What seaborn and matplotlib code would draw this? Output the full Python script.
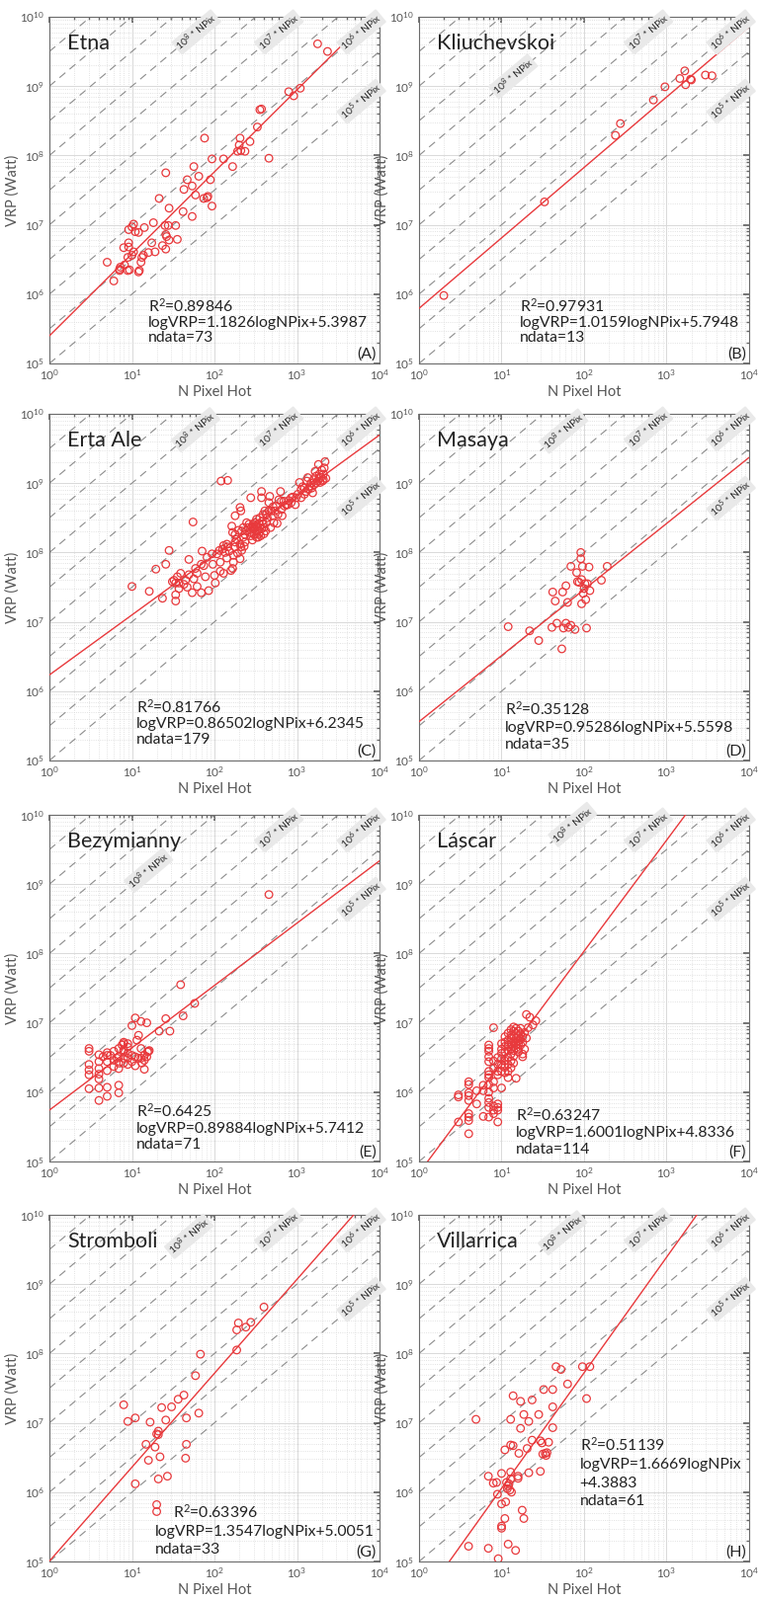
import numpy as np
import pandas as pd
import matplotlib
matplotlib.use("Agg")
import matplotlib.pyplot as plt
import seaborn as sns

# ---- data (log10 of N pixel hot, log10 of VRP in Watt) ----
etna_lognpix = [3.25, 3.37, 2.90, 2.96, 3.04, 2.55, 2.57, 2.52, 2.31, 2.30, 2.32, 2.43, 2.37, 2.28, 2.66,
                2.11, 2.22, 1.88, 1.97, 1.41, 1.75, 1.81, 1.67, 1.73, 1.63, 1.77, 1.95, 1.87, 1.91, 1.92,
                1.97, 1.33, 1.45, 1.62, 1.73, 1.26, 1.40, 1.44, 1.53, 1.02, 1.00, 1.04, 0.96, 1.08, 1.15,
                0.96, 1.41, 1.42, 1.55, 1.45, 1.24, 1.37, 1.41, 1.28, 1.20, 1.14, 1.02, 1.00, 0.95, 0.90,
                0.96, 1.12, 1.11, 1.09, 1.08, 0.97, 0.95, 0.91, 0.85, 0.70, 0.78, 0.86, 0.85]
etna_logvrp = [9.61, 9.50, 8.92, 8.86, 8.97, 8.66, 8.67, 8.41, 8.25, 8.15, 8.07, 8.20, 8.06, 8.06, 7.96,
               7.95, 7.84, 8.25, 7.95, 7.75, 7.84, 7.70, 7.65, 7.56, 7.51, 7.43, 7.65, 7.38, 7.39, 7.41,
               7.27, 7.38, 7.24, 7.19, 7.12, 7.03, 6.99, 6.99, 6.99, 7.01, 6.97, 6.90, 6.93, 6.89, 6.96,
               6.74, 6.86, 6.83, 6.79, 6.78, 6.74, 6.70, 6.65, 6.61, 6.60, 6.56, 6.61, 6.56, 6.53, 6.67,
               6.68, 6.53, 6.46, 6.34, 6.32, 6.35, 6.34, 6.42, 6.34, 6.46, 6.19, 6.39, 6.36]

kliu_lognpix = [0.30, 1.52, 2.38, 2.44, 2.84, 2.98, 3.16, 3.22, 3.23, 3.29, 3.30, 3.47, 3.55]
kliu_logvrp = [5.98, 7.33, 8.29, 8.46, 8.80, 8.99, 9.11, 9.22, 9.02, 9.10, 9.09, 9.16, 9.15]

erta_lognpix = [1.00, 1.21, 1.37, 1.53, 1.53, 1.29, 1.41, 1.45, 1.74, 2.08, 2.16,
                1.51, 1.55, 1.59, 1.53, 1.49, 1.57, 1.65, 1.67, 1.69, 1.69, 1.73, 1.79, 1.79, 1.84,
                1.84, 1.85, 1.89, 1.93, 1.98, 2.00, 2.01, 2.03, 2.07, 2.07, 2.10, 2.11, 2.13, 2.15,
                2.16, 2.18, 2.20, 2.22, 2.23, 2.23, 2.25, 2.25, 2.28, 2.31, 2.33, 2.36,
                2.21, 2.22, 2.25, 2.25, 2.31, 2.32, 2.29, 2.33, 2.35, 2.35, 2.37, 2.39, 2.41, 2.43,
                2.44, 2.45, 2.47, 2.48, 2.49, 2.50, 2.51, 2.52, 2.53, 2.54, 2.55, 2.55, 2.56, 2.57,
                2.57, 2.58, 2.59, 2.60, 2.61, 2.63, 2.64, 2.66, 2.67, 2.68, 2.69, 2.71, 2.72, 2.76,
                2.78, 2.80, 2.81, 2.84, 2.87, 2.90, 2.93, 2.95, 2.98, 3.01, 3.03, 3.05, 3.07, 3.09,
                3.11, 3.12, 3.13, 3.15, 3.17, 3.19, 3.20, 3.22, 3.23, 3.25, 3.26, 3.27, 3.29, 3.30,
                3.31, 3.32, 3.33, 3.34, 3.35, 3.28,
                2.47, 2.50, 2.52, 2.54, 2.51, 2.48, 2.44, 2.42, 2.39, 2.57, 2.59, 2.62, 2.37, 2.31,
                2.27, 2.15, 2.11, 2.06, 1.97, 1.91, 1.87, 1.77, 1.75, 1.63, 1.57,
                3.23, 3.27, 3.32, 3.18, 3.21, 3.14, 3.09, 3.05, 2.99, 2.93, 2.89, 2.85, 2.81, 2.75,
                2.73, 2.71, 2.77, 2.82, 2.66, 2.63, 2.60, 2.53, 2.46, 2.32]
erta_logvrp = [7.51, 7.44, 7.34, 7.39, 7.30, 7.76, 7.83, 8.03, 8.44, 9.03, 9.04,
               7.60, 7.65, 7.70, 7.56, 7.58, 7.56, 7.60, 7.50, 7.68, 7.90, 7.42, 7.51, 7.70, 7.42,
               7.83, 8.02, 7.65, 7.45, 7.83, 7.67, 7.56, 7.98, 7.86, 7.73, 8.05, 7.70, 8.00, 7.92,
               8.08, 8.02, 7.74, 7.77, 7.86, 7.96, 8.08, 8.15, 7.99, 7.91, 8.03, 8.09,
               8.38, 8.29, 8.26, 8.53, 8.65, 8.60, 8.32, 8.31, 8.36, 8.22, 8.26, 8.31, 8.36, 8.29,
               8.79, 8.37, 8.41, 8.34, 8.43, 8.27, 8.48, 8.38, 8.32, 8.42, 8.50, 8.36, 8.24, 8.79,
               8.88, 8.45, 8.55, 8.36, 8.60, 8.43, 8.50, 8.72, 8.81, 8.36, 8.60, 8.53, 8.43, 8.42,
               8.76, 8.88, 8.62, 8.74, 8.69, 8.75, 8.72, 8.80, 8.69, 8.84, 9.01, 8.91, 8.95, 8.93,
               8.88, 9.03, 9.08, 8.95, 9.00, 8.86, 9.05, 9.17, 9.10, 9.03, 9.27, 9.13, 9.08, 9.19,
               9.03, 9.13, 9.22, 9.31, 9.07, 9.01,
               8.36, 8.38, 8.31, 8.27, 8.22, 8.26, 8.24, 8.41, 8.43, 8.34, 8.41, 8.31, 8.15, 8.12,
               8.19, 8.12, 8.10, 8.03, 7.98, 7.93, 7.81, 7.77, 7.62, 7.54, 7.48,
               9.00, 9.07, 9.05, 8.93, 8.98, 8.91, 8.84, 8.79, 8.79, 8.79, 8.69, 8.67, 8.74, 8.67,
               8.60, 8.66, 8.55, 8.53, 8.60, 8.55, 8.27, 8.22, 8.18, 8.08]

masaya_lognpix = [1.08, 1.34, 1.45, 1.62, 1.65, 1.61, 1.67, 1.73, 1.74, 1.75, 1.78, 1.78, 1.80, 1.81,
                  1.84, 1.84, 1.89, 1.91, 1.92, 1.94, 1.96, 1.96, 1.97, 1.97, 1.98, 1.99, 2.00, 2.01,
                  2.02, 2.03, 2.04, 2.06, 2.07, 2.21, 2.28]
masaya_logvrp = [6.93, 6.87, 6.73, 7.43, 7.30, 6.92, 6.98, 6.61, 7.43, 6.91, 7.52, 6.98, 7.28, 6.92,
                 7.80, 6.95, 6.89, 7.71, 7.58, 7.57, 8.00, 7.91, 7.61, 7.26, 7.80, 7.41, 7.48, 7.55,
                 7.32, 6.91, 7.55, 7.79, 7.45, 7.60, 7.80]

bezy_lognpix = [2.66, 1.59, 1.62, 1.76, 1.41, 1.46, 1.33, 1.04, 1.00, 1.11, 1.18, 1.08, 1.04, 1.15,
                1.12, 1.15, 1.19, 1.21, 0.48, 0.48, 0.48, 0.48, 0.48, 0.48, 0.60, 0.60, 0.60, 0.60,
                0.60, 0.60, 0.60, 0.70, 0.70, 0.70, 0.70, 0.70, 0.78, 0.78, 0.78, 0.84, 0.84, 0.84,
                0.84, 0.84, 0.90, 0.90, 0.90, 0.90, 0.90, 0.95, 0.95, 0.95, 1.00, 1.04, 1.11, 1.11,
                1.15, 1.18, 1.20, 0.82, 0.65, 0.74, 0.88, 0.90, 0.95, 1.06, 0.84, 1.00, 1.08, 0.95,
                0.70]
bezy_logvrp = [8.85, 7.55, 7.10, 7.28, 7.06, 6.88, 6.88, 7.07, 6.96, 7.02, 7.00, 6.82, 6.51, 6.46,
               6.42, 6.33, 6.58, 6.60, 6.63, 6.59, 6.40, 6.32, 6.25, 6.05, 6.54, 6.44, 6.34, 6.26,
               6.19, 6.06, 5.88, 6.57, 6.44, 6.31, 6.07, 5.94, 6.59, 6.46, 6.37, 6.63, 6.51, 6.42,
               6.10, 5.99, 6.70, 6.61, 6.58, 6.49, 6.42, 6.65, 6.56, 6.49, 6.53, 6.38, 6.63, 6.49,
               6.53, 6.51, 6.59, 6.49, 6.51, 6.53, 6.68, 6.72, 6.70, 6.75, 6.34, 6.44, 6.49, 6.40,
               6.53]

lascar_npix = [3, 3, 3,
               4, 4, 4, 4, 4, 4, 4, 4, 4,
               5, 5, 6, 6, 6,
               7, 7, 7, 7, 7, 7, 7, 7, 7,
               8, 8, 8, 8, 8, 8, 8, 8,
               9, 9, 9, 9, 9, 9, 9, 9,
               10, 10, 10, 10, 10,
               11, 11, 11, 11, 11,
               12, 12, 12, 12, 12, 12, 12,
               13, 13, 13, 13, 13, 13,
               14, 14, 14, 14, 14, 14,
               15, 15, 15, 15, 15, 15,
               16, 16, 16, 16, 16,
               17, 17, 17, 18, 18, 18, 18, 19, 19, 20, 20, 21, 22, 24, 26,
               7, 7, 7, 7, 7,
               10, 10, 11, 11, 12, 13, 14, 14, 15, 16, 17, 13]
lascar_logvrp = [5.96, 5.93, 5.57,
                 6.15, 6.11, 5.99, 5.95, 5.88, 5.69, 5.64, 5.59, 5.40,
                 5.83, 6.02, 5.65, 6.02, 6.10,
                 6.21, 6.11, 6.00, 5.91, 5.85, 5.64, 5.78, 6.25, 6.30,
                 6.06, 5.80, 5.74, 5.69, 6.15, 6.35, 6.45, 6.93,
                 5.83, 5.78, 5.74, 5.57, 6.25, 6.30, 6.40, 6.50,
                 6.06, 6.56, 6.48, 6.40, 6.30,
                 6.72, 6.58, 6.45, 6.36, 6.28,
                 6.75, 6.68, 6.60, 6.50, 6.40, 6.30, 6.21,
                 6.78, 6.70, 6.62, 6.55, 6.45, 6.35,
                 6.80, 6.73, 6.66, 6.60, 6.52, 6.42,
                 6.85, 6.78, 6.72, 6.68, 6.64, 6.20,
                 6.88, 6.80, 6.74, 6.70, 6.58,
                 6.84, 6.76, 6.68, 6.80, 6.72, 6.55, 6.51, 6.86, 6.62, 6.78, 7.12, 6.93, 7.08, 6.97, 7.03,
                 6.68, 6.63, 6.59, 6.51, 6.44,
                 6.62, 6.70, 6.80, 6.66, 6.85, 6.90, 6.88, 6.94, 6.92, 6.62, 6.92, 6.82]

strom_lognpix = [2.60, 2.29, 2.27, 2.38, 2.44, 2.27, 1.83, 1.77, 1.63, 1.56, 1.48, 1.36, 0.90, 0.95,
                 1.04, 1.22, 1.41, 1.66, 1.81, 1.32, 1.32, 1.30, 1.17, 1.28, 1.20, 1.34, 1.66, 1.65,
                 1.04, 1.32, 1.43, 1.30, 1.30]
strom_logvrp = [8.67, 8.44, 8.34, 8.38, 8.45, 8.05, 7.99, 7.68, 7.40, 7.34, 7.23, 7.22, 7.26, 7.02,
                7.07, 7.01, 7.04, 7.07, 7.14, 6.88, 6.83, 6.84, 6.69, 6.65, 6.46, 6.51, 6.69, 6.49,
                6.12, 6.19, 6.23, 5.82, 5.72]

villa_lognpix = [0.60, 0.84, 0.96, 1.08, 1.17, 0.69, 0.84, 0.90, 0.94, 0.95, 1.00, 1.00, 1.00, 1.00,
                 1.04, 1.05, 1.04, 1.06, 1.07, 1.08, 1.09, 1.11, 1.11, 1.10, 1.11, 1.11, 1.14, 1.14,
                 1.20, 1.21, 1.23, 1.23, 1.25, 1.27, 1.27, 1.33, 1.31, 1.33, 1.37, 1.37, 1.45, 1.47,
                 1.49, 1.47, 1.51, 1.53, 1.54, 1.55, 1.57, 1.62, 1.62, 1.62, 1.66, 1.72, 1.80, 1.98,
                 2.03, 2.07, 1.12, 1.20, 1.50]
villa_logvrp = [5.22, 5.19, 5.04, 5.25, 5.16, 7.05, 6.23, 6.13, 6.14, 5.97, 6.27, 5.83, 5.51, 5.48,
                6.61, 5.86, 5.62, 6.14, 6.05, 6.09, 6.12, 7.05, 6.68, 6.03, 6.29, 6.19, 6.67, 7.39,
                6.20, 6.56, 6.92, 7.31, 5.74, 7.12, 5.62, 7.02, 6.63, 6.28, 7.33, 6.75, 7.12, 6.74,
                6.71, 6.30, 7.48, 6.56, 6.53, 6.57, 6.72, 7.48, 7.23, 6.93, 7.81, 7.77, 7.56, 7.81,
                7.35, 7.81, 6.00, 6.23, 6.55]

# panel names, fit results and the texts shown on each panel
names = ["Etna", "Kliuchevskoi", "Erta Ale", "Masaya", "Bezymianny", "Láscar", "Stromboli", "Villarrica"]
letters = ["(A)", "(B)", "(C)", "(D)", "(E)", "(F)", "(G)", "(H)"]
r2_text = ["0.89846", "0.97931", "0.81766", "0.35128", "0.6425", "0.63247", "0.63396", "0.51139"]
slopes = [1.1826, 1.0159, 0.86502, 0.95286, 0.89884, 1.6001, 1.3547, 1.6669]
intercepts = [5.3987, 5.7948, 6.2345, 5.5598, 5.7412, 4.8336, 5.0051, 4.3883]
ndata = [73, 13, 179, 35, 71, 114, 33, 61]
slope_text = ["1.1826", "1.0159", "0.86502", "0.95286", "0.89884", "1.6001", "1.3547", "1.6669"]
icpt_text = ["5.3987", "5.7948", "6.2345", "5.5598", "5.7412", "4.8336", "5.0051", "4.3883"]

ref_exponents = [5, 5.5, 6, 6.5, 7, 7.5, 8, 8.5, 9, 9.5]
label_exponents = [8, 7, 6, 5]
# log10(NPix) where the 10^8 label sits in each panel
label8_lognpix = [1.78, 1.14, 1.77, 1.75, 1.20, 1.86, 1.69, 1.74]

# where the fit text block sits (axes fraction): left x, first baseline, line step
txt_x = [0.30, 0.305, 0.263, 0.26, 0.263, 0.293, 0.319, 0.487]
txt_y = [0.148, 0.148, 0.137, 0.131, 0.128, 0.117, 0.125, 0.319]
txt_step = [0.043, 0.043, 0.044, 0.048, 0.045, 0.047, 0.051, 0.052]

x_npix = [10 ** np.array(etna_lognpix), 10 ** np.array(kliu_lognpix), 10 ** np.array(erta_lognpix),
          10 ** np.array(masaya_lognpix), 10 ** np.array(bezy_lognpix), np.array(lascar_npix, float),
          10 ** np.array(strom_lognpix), 10 ** np.array(villa_lognpix)]
y_vrp = [10 ** np.array(v) for v in [etna_logvrp, kliu_logvrp, erta_logvrp, masaya_logvrp,
                                     bezy_logvrp, lascar_logvrp, strom_logvrp, villa_logvrp]]

sns.set_theme(style="white")
plt.rcParams["font.family"] = ["Lato", "DejaVu Sans"]
plt.rcParams["mathtext.fontset"] = "custom"
plt.rcParams["mathtext.rm"] = "Lato"
plt.rcParams["mathtext.it"] = "Lato"
plt.rcParams["mathtext.bf"] = "Lato:bold"

RED = "#e8393c"
GRAYTXT = "#555555"
DARK = "#222222"

fig = plt.figure(figsize=(7.69, 16.2), dpi=100)
W, H = 769.0, 1620.0
col_left = [50, 424]
row_bottom = [368, 770, 1176, 1581]
ax_w, ax_h = 334, 351

for i, name in enumerate(names):
    r, c = divmod(i, 2)
    ax = fig.add_axes([col_left[c] / W, 1 - row_bottom[r] / H, ax_w / W, ax_h / H])
    ax.set_xscale("log")
    ax.set_yscale("log")
    ax.set_xlim(1, 1e4)
    ax.set_ylim(1e5, 1e10)

    # reference lines 10^k * NPix
    xr = np.logspace(0, 4, 20)
    for k in ref_exponents:
        ax.plot(xr, 10 ** k * xr, color="#8c8c8c", lw=0.8, dashes=(7, 5), zorder=2)

    # regression line
    xf = np.logspace(0, 4, 60)
    fit = pd.DataFrame({"npix": xf, "vrp": 10 ** (intercepts[i] + slopes[i] * np.log10(xf))})
    sns.lineplot(data=fit, x="npix", y="vrp", ax=ax, color=RED, lw=1.0, zorder=4)

    # data points
    pts = pd.DataFrame({"npix": x_npix[i], "vrp": y_vrp[i]})
    sns.scatterplot(data=pts, x="npix", y="vrp", ax=ax, marker="o", s=30,
                    facecolors="none", edgecolors=RED, linewidths=0.9, zorder=5)

    ax.set_xlim(1, 1e4)
    ax.set_ylim(1e5, 1e10)
    ax.set_xticks([1, 10, 100, 1000, 10000])
    ax.set_yticks([1e5, 1e6, 1e7, 1e8, 1e9, 1e10])
    ax.grid(True, which="major", color="#d9d9d9", lw=0.7, ls="-")
    ax.grid(True, which="minor", color="#d9d9d9", lw=0.6, ls=":")
    ax.set_axisbelow(True)
    ax.tick_params(which="both", direction="in", top=True, right=True, colors="#666666",
                   labelcolor=GRAYTXT, labelsize=8.5)
    ax.tick_params(which="major", length=4)
    ax.tick_params(which="minor", length=2)
    for sp in ax.spines.values():
        sp.set_color("#6b6b6b")
        sp.set_linewidth(0.8)
    ax.set_xlabel("N Pixel Hot", fontsize=10.5, color=GRAYTXT, labelpad=2)
    ax.set_ylabel("VRP (Watt)", fontsize=10.5, color=GRAYTXT, labelpad=0)

    # line labels, rotated along the reference lines
    p0 = ax.transData.transform((10.0, 1e6))
    p1 = ax.transData.transform((100.0, 1e7))
    ang = np.degrees(np.arctan2(p1[1] - p0[1], p1[0] - p0[0]))
    for k in label_exponents:
        if k == 8:
            lx = label8_lognpix[i]
        elif k == 7:
            lx = 2.78
        else:
            lx = 3.78
        ax.text(10 ** lx, 10 ** (k + lx), r"$10^{%d}$ * NPix" % k, rotation=ang,
                rotation_mode="anchor", ha="center", va="center", fontsize=7.5,
                color="#2a2a2a", zorder=6,
                bbox=dict(boxstyle="round,pad=0.12", fc="#e9e9e9", ec="none"))

    # title and panel letter
    ax.text(0.055, 0.905, name, transform=ax.transAxes, fontsize=15.5, color=DARK,
            va="baseline", ha="left", zorder=7)
    ax.text(0.99, 0.015, letters[i], transform=ax.transAxes, fontsize=11.5, color=DARK,
            ha="right", va="baseline", zorder=7)

    # fit text, one line at a time
    if name == "Villarrica":
        lines = ["R$^2$=" + r2_text[i], "logVRP=" + slope_text[i] + "logNPix",
                 "+" + icpt_text[i], "ndata=%d" % ndata[i]]
    else:
        lines = ["R$^2$=" + r2_text[i],
                 "logVRP=" + slope_text[i] + "logNPix+" + icpt_text[i],
                 "ndata=%d" % ndata[i]]
    for j, line in enumerate(lines):
        x0 = txt_x[i]
        if name == "Stromboli" and j == 0:
            x0 = 0.374
        ax.text(x0, txt_y[i] - j * txt_step[i], line, transform=ax.transAxes, fontsize=11.3,
                color=DARK, ha="left", va="baseline", zorder=7)

fig.savefig("out.png", dpi=100)
